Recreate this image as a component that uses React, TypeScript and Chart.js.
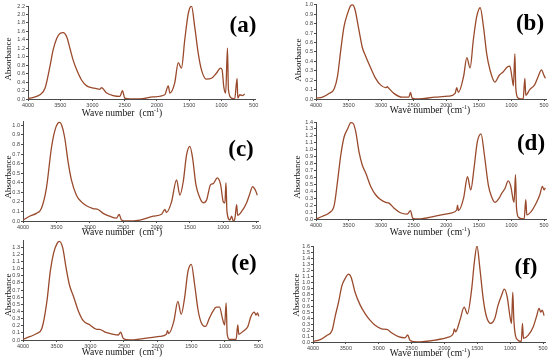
import React, { useEffect, useRef } from "react";
import { Chart, registerables } from "chart.js";
Chart.register(...registerables);

// ---------- data ----------
const xTickValues = [4000, 3500, 3000, 2500, 2000, 1500, 1000, 500];

const yTicksA = [0, 0.2, 0.4, 0.6, 0.8, 1.0, 1.2, 1.4, 1.6, 1.8, 2.0, 2.2];
const yTicksB = [0, 0.1, 0.2, 0.3, 0.4, 0.5, 0.6, 0.7, 0.8, 0.9, 1.0];
const yTicksC = [0, 0.1, 0.2, 0.3, 0.4, 0.5, 0.6, 0.7, 0.8, 0.9, 1.0];
const yTicksD = [0, 0.1, 0.2, 0.3, 0.4, 0.5, 0.6, 0.7, 0.8, 0.9, 1.0, 1.1, 1.2, 1.3, 1.4];
const yTicksE = [0, 0.1, 0.2, 0.3, 0.4, 0.5, 0.6, 0.7, 0.8, 0.9, 1.0, 1.1, 1.2, 1.3];
const yTicksF = [0, 0.1, 0.2, 0.3, 0.4, 0.5, 0.6, 0.7, 0.8, 0.9, 1.0, 1.1, 1.2, 1.3, 1.4, 1.5, 1.6];

const wnA = [4000, 3915, 3815, 3735, 3660, 3610, 3555, 3505, 3455, 3400, 3350, 3300, 3245, 3170, 3090, 2990, 2885, 2860, 2780, 2680, 2575, 2535, 2500, 2420, 2265, 2060, 1880, 1825, 1800, 1725, 1670, 1620, 1570, 1515, 1465, 1415, 1360, 1310, 1235, 1155, 1080, 1015, 990, 965, 935, 907, 892, 845, 795, 758, 747, 716, 675, 640];
const absA = [0.01, 0.04, 0.10, 0.26, 0.77, 1.16, 1.43, 1.55, 1.57, 1.47, 1.20, 0.92, 0.69, 0.45, 0.31, 0.26, 0.23, 0.27, 0.14, 0.08, 0.06, 0.20, 0.02, 0.0, 0.0, 0.05, 0.10, 0.31, 0.14, 0.38, 0.86, 0.73, 1.39, 2.02, 2.2, 1.71, 1.08, 0.69, 0.47, 0.49, 0.61, 0.73, 0.69, 0.30, 0.14, 1.2, 0.22, 0.02, 0.0, 0.49, 0.02, 0.1, 0.08, 0.12];

const wnB = [4000, 3900, 3795, 3720, 3670, 3620, 3570, 3515, 3470, 3440, 3405, 3340, 3290, 3235, 3160, 3085, 3010, 2930, 2905, 2890, 2805, 2675, 2575, 2550, 2525, 2425, 2170, 1965, 1865, 1840, 1815, 1735, 1685, 1635, 1585, 1535, 1480, 1430, 1380, 1330, 1255, 1190, 1125, 1065, 1025, 990, 970, 948, 933, 897, 820, 795, 780, 720, 645, 590, 540, 500, 480];
const absB = [0.01, 0.02, 0.06, 0.11, 0.24, 0.52, 0.77, 0.91, 0.99, 1.0, 0.96, 0.73, 0.55, 0.45, 0.33, 0.22, 0.15, 0.12, 0.13, 0.12, 0.06, 0.02, 0.02, 0.07, 0.01, 0.0, 0.02, 0.03, 0.06, 0.12, 0.07, 0.24, 0.44, 0.33, 0.63, 0.87, 0.97, 0.77, 0.48, 0.31, 0.18, 0.25, 0.29, 0.34, 0.35, 0.22, 0.14, 0.48, 0.11, 0.01, 0.0, 0.22, 0.04, 0.1, 0.15, 0.24, 0.31, 0.25, 0.22];

const wnC = [4000, 3900, 3800, 3725, 3650, 3575, 3525, 3480, 3450, 3420, 3375, 3325, 3275, 3200, 3125, 3050, 2950, 2875, 2800, 2700, 2600, 2560, 2525, 2450, 2250, 2050, 1925, 1875, 1850, 1775, 1700, 1650, 1600, 1550, 1500, 1460, 1410, 1350, 1300, 1250, 1190, 1150, 1090, 1040, 1000, 975, 960, 945, 900, 875, 850, 825, 800, 785, 725, 650, 610, 560, 525, 490];
const absC = [0.01, 0.05, 0.08, 0.13, 0.34, 0.76, 0.94, 1.02, 1.03, 1.0, 0.87, 0.62, 0.43, 0.27, 0.2, 0.16, 0.13, 0.12, 0.08, 0.05, 0.03, 0.07, 0.01, 0.0, 0.01, 0.05, 0.07, 0.12, 0.09, 0.2, 0.43, 0.27, 0.41, 0.69, 0.78, 0.66, 0.38, 0.24, 0.19, 0.22, 0.38, 0.39, 0.45, 0.38, 0.2, 0.19, 0.4, 0.1, 0.01, 0.05, 0.0, 0.03, 0.17, 0.06, 0.1, 0.19, 0.27, 0.36, 0.33, 0.27];

const wnD = [4000, 3900, 3795, 3720, 3670, 3620, 3570, 3515, 3465, 3430, 3390, 3340, 3290, 3235, 3160, 3085, 3010, 2930, 2880, 2805, 2705, 2600, 2550, 2515, 2425, 2170, 1915, 1840, 1828, 1813, 1735, 1675, 1625, 1575, 1525, 1467, 1415, 1355, 1305, 1255, 1190, 1150, 1100, 1050, 1010, 975, 960, 938, 923, 887, 805, 780, 765, 695, 620, 565, 525, 500, 480];
const absD = [0.0, 0.04, 0.09, 0.2, 0.54, 0.92, 1.18, 1.3, 1.39, 1.38, 1.26, 0.97, 0.78, 0.66, 0.47, 0.35, 0.28, 0.24, 0.23, 0.16, 0.09, 0.07, 0.12, 0.01, 0.0, 0.04, 0.09, 0.13, 0.2, 0.12, 0.3, 0.61, 0.42, 0.73, 1.11, 1.23, 0.92, 0.49, 0.32, 0.24, 0.3, 0.37, 0.44, 0.55, 0.47, 0.28, 0.24, 0.64, 0.16, 0.02, 0.0, 0.28, 0.06, 0.11, 0.23, 0.35, 0.47, 0.42, 0.45];

const wnE = [4000, 3890, 3795, 3720, 3645, 3595, 3545, 3495, 3460, 3410, 3360, 3310, 3250, 3175, 3105, 3005, 2905, 2865, 2780, 2660, 2585, 2550, 2510, 2415, 2215, 1970, 1870, 1855, 1835, 1760, 1700, 1650, 1600, 1550, 1500, 1450, 1400, 1355, 1290, 1230, 1180, 1130, 1080, 1040, 1005, 983, 968, 935, 835, 810, 795, 735, 660, 615, 565, 540, 515, 500];
const absE = [0.01, 0.05, 0.09, 0.16, 0.54, 0.96, 1.22, 1.35, 1.38, 1.29, 1.01, 0.77, 0.61, 0.4, 0.27, 0.21, 0.15, 0.15, 0.11, 0.08, 0.07, 0.11, 0.02, 0.0, 0.02, 0.05, 0.08, 0.13, 0.09, 0.26, 0.54, 0.36, 0.59, 0.96, 1.06, 0.77, 0.42, 0.25, 0.19, 0.31, 0.4, 0.46, 0.46, 0.31, 0.21, 0.52, 0.09, 0.01, 0.01, 0.21, 0.08, 0.12, 0.19, 0.33, 0.39, 0.35, 0.38, 0.33];

const wnF = [4000, 3890, 3790, 3710, 3660, 3610, 3560, 3510, 3460, 3420, 3360, 3280, 3205, 3130, 3055, 2955, 2875, 2800, 2700, 2600, 2560, 2525, 2420, 2145, 1940, 1865, 1850, 1830, 1765, 1700, 1650, 1585, 1545, 1505, 1460, 1410, 1360, 1295, 1235, 1185, 1130, 1090, 1045, 1005, 980, 960, 945, 920, 880, 830, 813, 798, 727, 650, 600, 560, 535, 510, 485];
const absF = [0.01, 0.04, 0.11, 0.19, 0.44, 0.67, 0.94, 1.06, 1.13, 1.08, 0.83, 0.61, 0.47, 0.36, 0.28, 0.22, 0.21, 0.15, 0.09, 0.07, 0.12, 0.03, 0.0, 0.03, 0.08, 0.14, 0.22, 0.17, 0.36, 0.58, 0.47, 0.89, 1.33, 1.6, 1.22, 0.72, 0.42, 0.31, 0.39, 0.61, 0.78, 0.88, 0.75, 0.44, 0.31, 0.83, 0.39, 0.11, 0.03, 0.01, 0.31, 0.06, 0.11, 0.25, 0.42, 0.56, 0.5, 0.53, 0.44];

const panelLabels = ["(a)", "(b)", "(c)", "(d)", "(e)", "(f)"];
const xTitle = "Wave number";
const yTitle = "Absorbance";

// ---------- layout / style ----------
const LINE = "#9a4a2c";
const AXIS = "#4a4a4a";

const panels = [
  { wn: wnA, abs: absA, yTicks: yTicksA, yMax: 2.2, xMin: 480, col: 0, L: 28, R: 255, T: 6, B: 99, lab: [243, 24], xt: [122, 113], yt: [8, 59] },
  { wn: wnB, abs: absB, yTicks: yTicksB, yMax: 1.01, xMin: 470, col: 275, L: 316, R: 546, T: 4, B: 99, lab: [530, 22], xt: [430, 110], yt: [298, 60] },
  { wn: wnC, abs: absC, yTicks: yTicksC, yMax: 1.045, xMin: 480, col: 0, L: 23, R: 258, T: 121, B: 221, lab: [241, 148], xt: [122, 232], yt: [8, 177] },
  { wn: wnD, abs: absD, yTicks: yTicksD, yMax: 1.4, xMin: 470, col: 275, L: 316, R: 546, T: 122, B: 219, lab: [531, 142], xt: [430, 232], yt: [297, 177] },
  { wn: wnE, abs: absE, yTicks: yTicksE, yMax: 1.4, xMin: 480, col: 0, L: 23, R: 260, T: 240, B: 340, lab: [244, 262], xt: [122, 352], yt: [8, 295] },
  { wn: wnF, abs: absF, yTicks: yTicksF, yMax: 1.6, xMin: 470, col: 275, L: 313, R: 545, T: 246, B: 342, lab: [526, 266], xt: [430, 353], yt: [296, 295] },
];

function Panel({ p }: { p: any }) {
  const ref = useRef<HTMLCanvasElement>(null);
  const cx = p.col;
  const cy = p.T - 8;
  const w = 275;
  const h = Math.min(p.B + 20, 360) - cy;

  useEffect(() => {
    const chart = new Chart(ref.current as HTMLCanvasElement, {
      type: "line",
      data: {
        datasets: [
          {
            data: p.wn.map((x: number, i: number) => ({ x, y: p.abs[i] })),
            borderColor: LINE,
            borderWidth: 1.3,
            pointRadius: 0,
            fill: false,
            cubicInterpolationMode: "monotone",
          },
        ],
      },
      options: {
        animation: false,
        responsive: false,
        maintainAspectRatio: false,
        devicePixelRatio: 1,
        layout: { padding: { left: 0, top: p.T - cy, right: cx + w - p.R, bottom: 0 } },
        plugins: { legend: { display: false }, tooltip: { enabled: false } },
        scales: {
          x: {
            type: "linear",
            reverse: true,
            min: p.xMin,
            max: 4000,
            afterFit: (s: any) => {
              s.height = cy + h - p.B;
            },
            afterBuildTicks: (s: any) => {
              s.ticks = xTickValues.map((v) => ({ value: v }));
            },
            ticks: {
              autoSkip: false,
              maxRotation: 0,
              padding: 1,
              color: "#444",
              font: { size: 5.5, family: "Liberation Sans" },
              callback: (v: any) => String(v),
            },
            grid: { drawOnChartArea: false, drawTicks: true, tickLength: 2, color: AXIS },
            border: { display: true, color: AXIS, width: 1 },
          },
          y: {
            type: "linear",
            min: 0,
            max: p.yMax,
            afterFit: (s: any) => {
              s.width = p.L - cx;
            },
            afterBuildTicks: (s: any) => {
              s.ticks = p.yTicks.map((v: number) => ({ value: v }));
            },
            ticks: {
              autoSkip: false,
              padding: 1,
              color: "#444",
              font: { size: 5.5, family: "Liberation Sans" },
              callback: (v: any) => Number(v).toFixed(1),
            },
            grid: { drawOnChartArea: false, drawTicks: true, tickLength: 2, color: AXIS },
            border: { display: true, color: AXIS, width: 1 },
          },
        },
      },
    } as any);
    return () => chart.destroy();
  }, []);

  return (
    <canvas
      ref={ref}
      width={w}
      height={h}
      style={{ position: "absolute", left: cx, top: cy, width: w, height: h }}
    />
  );
}

export default function App() {
  return (
    <div
      style={{
        position: "absolute",
        left: 0,
        top: 0,
        width: 550,
        height: 360,
        overflow: "hidden",
        background: "#fff",
      }}
    >
      {panels.map((p, i) => (
        <Panel key={"c" + i} p={p} />
      ))}
      {panels.map((p, i) => (
        <React.Fragment key={"t" + i}>
          <div
            style={{
              position: "absolute",
              left: p.lab[0],
              top: p.lab[1],
              transform: "translate(-50%, -50%)",
              font: 'bold 23px "Liberation Serif"',
              color: "#000",
              whiteSpace: "nowrap",
              lineHeight: 1,
            }}
          >
            {panelLabels[i]}
          </div>
          <div
            style={{
              position: "absolute",
              left: p.xt[0],
              top: p.xt[1],
              transform: "translate(-50%, -50%)",
              font: '9.5px "Liberation Serif"',
              color: "#111",
              whiteSpace: "nowrap",
              lineHeight: 1,
            }}
          >
            {xTitle}&nbsp;&nbsp;(cm<span style={{ fontSize: 6, verticalAlign: "4px" }}>-1</span>)
          </div>
          <div
            style={{
              position: "absolute",
              left: p.yt[0],
              top: p.yt[1],
              transform: "translate(-50%, -50%) rotate(-90deg)",
              font: '9px "Liberation Serif"',
              color: "#111",
              whiteSpace: "nowrap",
              lineHeight: 1,
            }}
          >
            {yTitle}
          </div>
        </React.Fragment>
      ))}
    </div>
  );
}
